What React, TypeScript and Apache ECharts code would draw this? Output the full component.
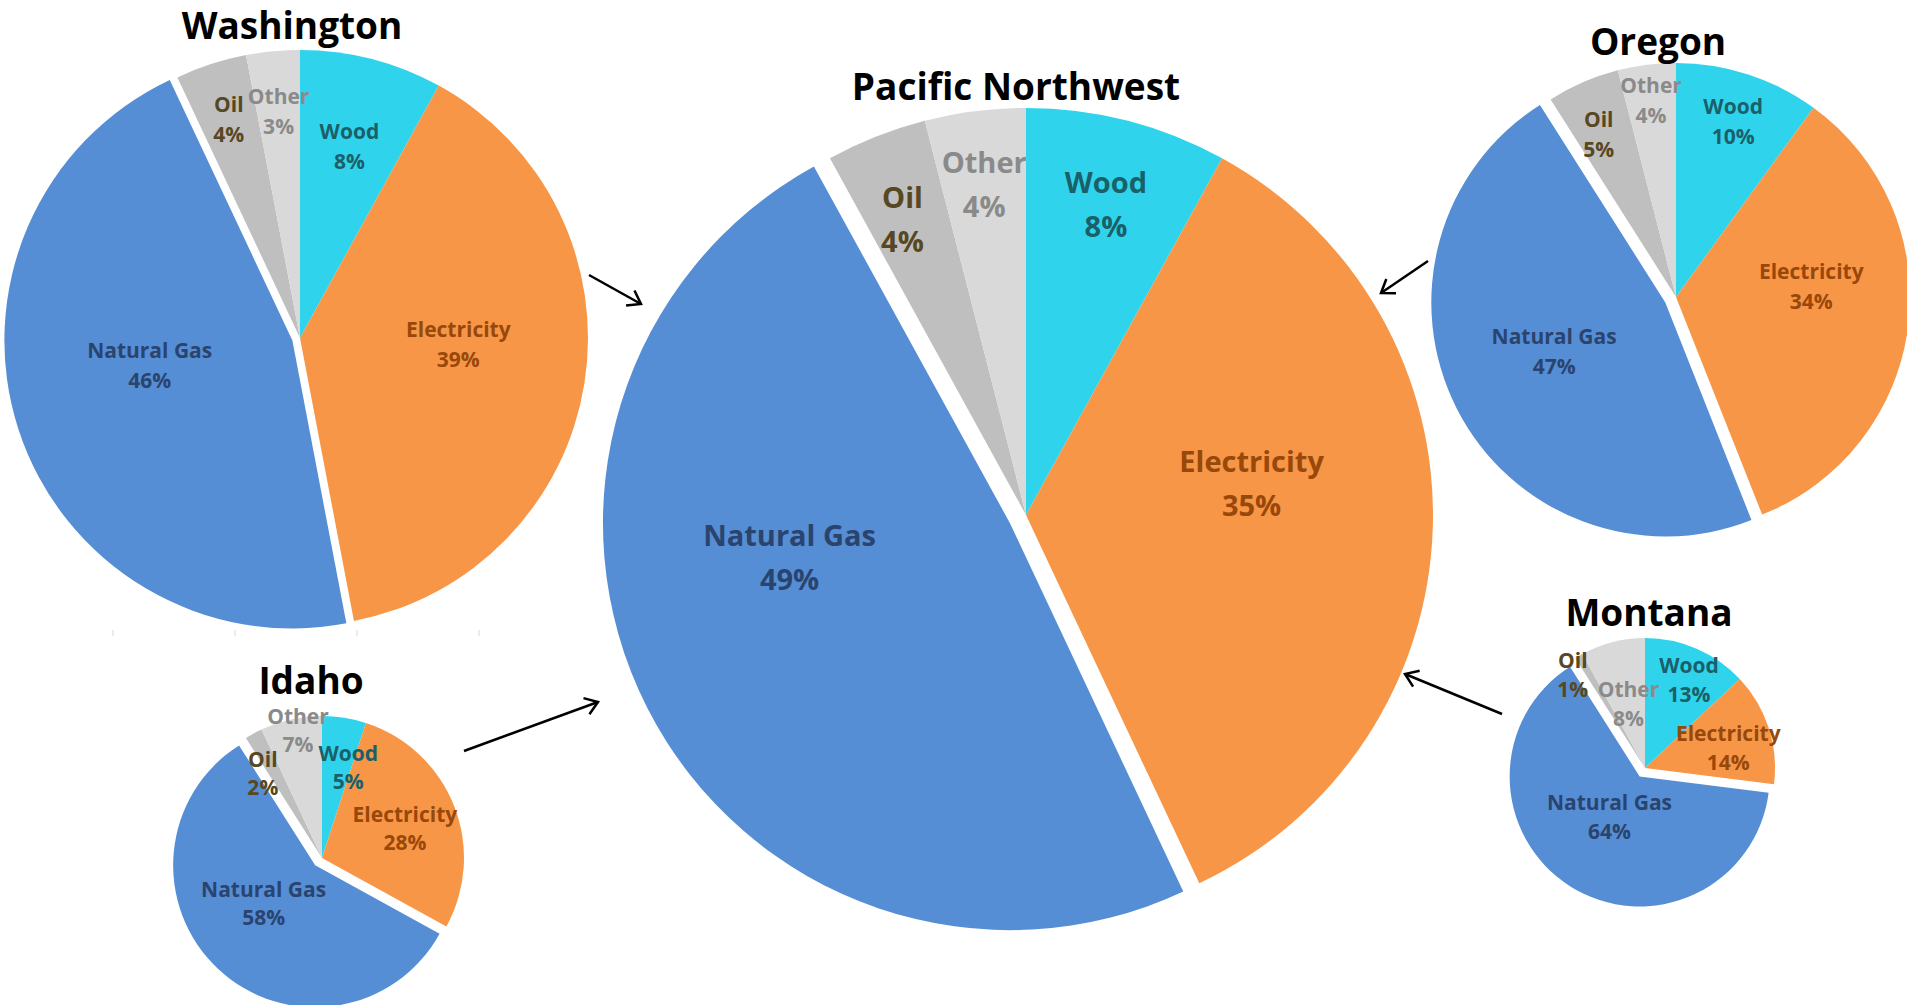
import React, { useEffect, useRef } from 'react';
import * as echarts from 'echarts';

// ---------- data ----------
const categories = ['Wood', 'Electricity', 'Natural Gas', 'Oil', 'Other'];
const washingtonValues = [8, 39, 46, 4, 3];
const oregonValues = [10, 34, 47, 5, 4];
const idahoValues = [5, 28, 58, 2, 7];
const montanaValues = [13, 14, 64, 1, 8];
const pacificNorthwestValues = [8, 35, 49, 4, 4];
const explodedCategory = 'Natural Gas';

// ---------- styles ----------
const sliceColors = ['#2FD4EC', '#F79646', '#558ED5', '#BFBFBF', '#D9D9D9'];
const labelColors = ['#1B5F69', '#97480A', '#2A446E', '#574722', '#8A8A8A'];
const FONT = '"Open Sans", "Noto Sans", sans-serif';

type PieLayout = {
  title: string;
  values: number[];
  cx: number;
  cy: number;
  r: number;
  explode: number;
  titleX: number;
  titleY: number;
  fontSize: number;
  lineHeight: number;
  labelPlace: number[][]; // [fraction of radius, angle tweak in degrees]
};

const pieLayouts: PieLayout[] = [
  {
    title: 'Washington', values: washingtonValues, cx: 300, cy: 338, r: 288, explode: 8,
    titleX: 292, titleY: 24, fontSize: 21, lineHeight: 30,
    labelPlace: [[0.69, 0], [0.55, -7], [0.53, 8], [0.8, 0], [0.79, 0]],
  },
  {
    title: 'Oregon', values: oregonValues, cx: 1676, cy: 297, r: 234, explode: 12,
    titleX: 1658, titleY: 40, fontSize: 21, lineHeight: 30,
    labelPlace: [[0.79, 0], [0.58, -12], [0.57, 3], [0.77, -2], [0.85, 0]],
  },
  {
    title: 'Idaho', values: idahoValues, cx: 322, cy: 858, r: 142, explode: 10,
    titleX: 311, titleY: 679, fontSize: 21, lineHeight: 28,
    labelPlace: [[0.67, 7], [0.62, 2], [0.52, 9], [0.73, -6], [0.92, 2]],
  },
  {
    title: 'Montana', values: montanaValues, cx: 1645, cy: 768, r: 130, explode: 10,
    titleX: 1649, titleY: 611, fontSize: 21, lineHeight: 29,
    labelPlace: [[0.76, 3], [0.66, 4], [0.46, 4], [0.91, -7], [0.51, 0]],
  },
  {
    title: 'Pacific Northwest', values: pacificNorthwestValues, cx: 1026, cy: 515, r: 407, explode: 18,
    titleX: 1016, titleY: 85, fontSize: 29, lineHeight: 44,
    labelPlace: [[0.79, 0], [0.56, -10], [0.59, 17], [0.79, -1], [0.82, 0]],
  },
];

// arrows: [x1, y1, x2 (tip), y2 (tip)]
const arrows = [
  [589, 275, 641, 304],
  [464, 751, 598, 702],
  [1428, 261, 1381, 293],
  [1502, 714, 1405, 674],
];

const tickXs = [113, 235, 357, 479];

function midAngles(values: number[]): number[] {
  const total = values.reduce((a, b) => a + b, 0);
  let cum = 0;
  return values.map((v) => {
    const mid = ((cum + v / 2) / total) * 360;
    cum += v;
    return mid;
  });
}

function labelPoints(p: PieLayout): number[][] {
  const mids = midAngles(p.values);
  return p.values.map((_, i) => {
    const [f, dA] = p.labelPlace[i];
    const a = ((mids[i] + dA) * Math.PI) / 180;
    return [p.cx + f * p.r * Math.sin(a), p.cy - f * p.r * Math.cos(a)];
  });
}

function arrowGraphics(a: number[]) {
  const [x1, y1, x2, y2] = a;
  const ang = Math.atan2(y2 - y1, x2 - x1);
  const L = 15;
  const spread = (35 * Math.PI) / 180;
  const p1 = [x2 - L * Math.cos(ang - spread), y2 - L * Math.sin(ang - spread)];
  const p2 = [x2 - L * Math.cos(ang + spread), y2 - L * Math.sin(ang + spread)];
  return [
    {
      type: 'line',
      shape: { x1, y1, x2, y2 },
      style: { stroke: '#000', lineWidth: 2.5 },
      z: 100,
    },
    {
      type: 'polyline',
      shape: { points: [p1, [x2, y2], p2] },
      style: { stroke: '#000', lineWidth: 2.5, fill: null },
      z: 100,
    },
  ];
}

function buildSeries(p: PieLayout) {
  const pts = labelPoints(p);
  const mids = midAngles(p.values);
  const exIdx = categories.indexOf(explodedCategory);
  const exA = (mids[exIdx] * Math.PI) / 180;
  const exCenter = [p.cx + p.explode * Math.sin(exA), p.cy - p.explode * Math.cos(exA)];

  const common = {
    type: 'pie',
    radius: [0, p.r],
    startAngle: 90,
    clockwise: true,
    avoidLabelOverlap: false,
    emphasis: { disabled: true },
    itemStyle: { borderWidth: 0 },
    label: {
      show: true,
      position: 'inside',
      formatter: '{b}\n{c}%',
      fontFamily: FONT,
      fontWeight: 'bold',
      fontSize: p.fontSize,
      lineHeight: p.lineHeight,
      align: 'center',
      verticalAlign: 'middle',
    },
    labelLine: { show: false },
    labelLayout: (params: any) => {
      const pt = pts[params.dataIndex];
      return { x: pt[0], y: pt[1] };
    },
  };

  // exploded slice: same data, center pushed out along the slice's mid angle
  const exploded = {
    ...common,
    name: p.title + ' (exploded)',
    center: exCenter,
    data: categories.map((c, i) => {
      const shown = i === exIdx;
      return {
        name: c,
        value: p.values[i],
        itemStyle: { color: shown ? sliceColors[i] : 'rgba(0,0,0,0)' },
        label: { show: shown, color: labelColors[i] },
      };
    }),
  };

  // main pie: every slice except the exploded one
  const main = {
    ...common,
    name: p.title,
    center: [p.cx, p.cy],
    data: categories.map((c, i) => {
      const hidden = i === exIdx;
      return {
        name: c,
        value: p.values[i],
        itemStyle: { color: hidden ? 'rgba(0,0,0,0)' : sliceColors[i] },
        label: { show: !hidden, color: labelColors[i] },
      };
    }),
  };

  return [exploded, main];
}

export default function App() {
  const ref = useRef<HTMLDivElement>(null);

  useEffect(() => {
    if (!ref.current) return;
    const chart = echarts.init(ref.current, undefined, { renderer: 'svg' });

    const series = pieLayouts.flatMap(buildSeries);

    const titles = pieLayouts.map((p) => ({
      type: 'text',
      x: p.titleX,
      y: p.titleY,
      z: 100,
      style: {
        text: p.title,
        font: `bold 37px ${FONT}`,
        fill: '#000',
        textAlign: 'center',
        textVerticalAlign: 'middle',
        align: 'center',
        verticalAlign: 'middle',
      },
    }));

    const ticks = tickXs.map((x) => ({
      type: 'line',
      shape: { x1: x, y1: 630, x2: x, y2: 636 },
      style: { stroke: '#D9D9D9', lineWidth: 1 },
    }));

    chart.setOption({
      animation: false,
      backgroundColor: '#ffffff',
      series,
      graphic: [...titles, ...arrows.flatMap(arrowGraphics), ...ticks],
    } as any);

    return () => chart.dispose();
  }, []);

  return (
    <div
      ref={ref}
      style={{ position: 'fixed', left: 0, top: 0, width: 1907, height: 1005, background: '#fff' }}
    />
  );
}
